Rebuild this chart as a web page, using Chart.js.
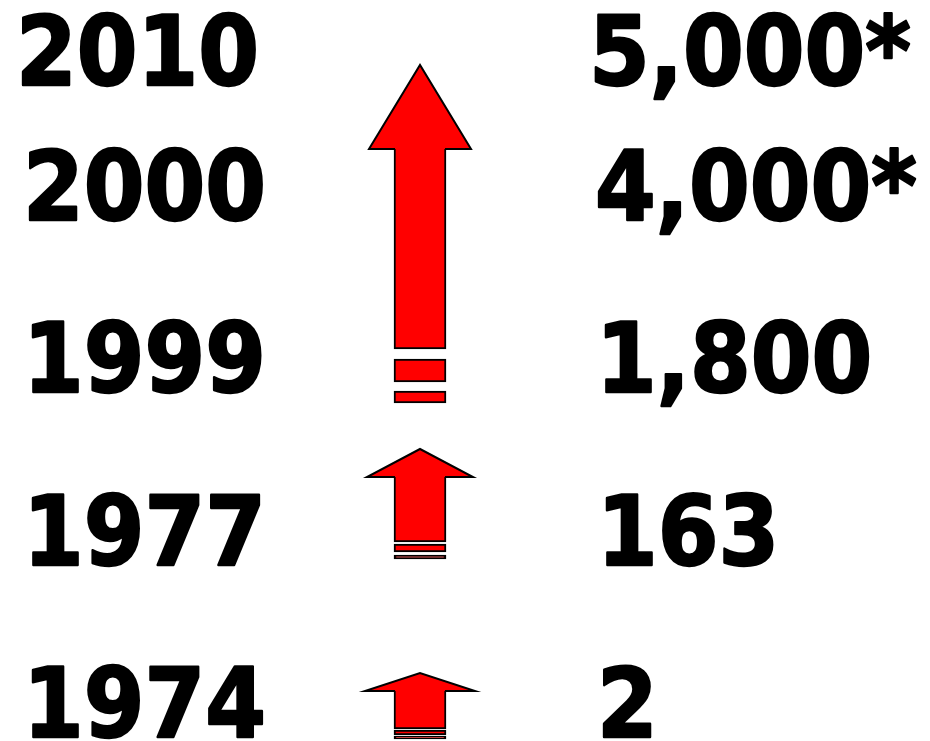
<!DOCTYPE html>
<html>
<head>
<meta charset="utf-8">
<script src="https://cdn.jsdelivr.net/npm/chart.js@4"></script>
<style>
  html, body { margin: 0; padding: 0; background: #fff; }
  #wrap { width: 930px; height: 741px; position: relative; }
</style>
</head>
<body>
<div id="wrap"><canvas id="chart"></canvas></div>
<script>
// Rows: year on the left, count on the right
const years = ['2010', '2000', '1999', '1977', '1974'];
const counts = ['5,000*', '4,000*', '1,800', '163', '2'];

// Arrows, in slide units (0 = top of slide, 741 = bottom)
const arrowTip = [65, 449, 673];
const headBase = [149, 477, 691];
const shaftEnd = [349, 542, 729];
// "broken" segments under each arrow: [top, bottom]
const breakBars = [
  [[359, 382], [391, 403]],
  [[544, 552], [555, 559]],
  [[730, 735], [736, 739]]
];

// layout (not data)
const rowBaseline = [85, 220, 392, 565, 737];
const yearX = [16, 23, 23, 23, 23];
const countX = [589, 595, 596, 597, 597];
const arrowX = 420;
const shaftWidth = 52;
const headHalf = [51, 53, 55];
const RED = '#ff0000';

const shaftData = arrowTip.map((t, i) => ({ x: arrowX, y: [headBase[i], shaftEnd[i]] }));
const breakData = [];
breakBars.forEach(list => list.forEach(b => breakData.push({ x: arrowX, y: b })));

// arrow heads + the text columns
const slidePlugin = {
  id: 'slide',
  afterDatasetsDraw(chart) {
    const ctx = chart.ctx;
    const xs = chart.scales.x, ys = chart.scales.y;
    const cx = xs.getPixelForValue(arrowX);
    const halfShaft = shaftWidth / 2;

    arrowTip.forEach((t, i) => {
      const tipY = ys.getPixelForValue(t);
      const baseY = ys.getPixelForValue(headBase[i]);
      const hw = headHalf[i];
      ctx.save();
      ctx.beginPath();
      ctx.moveTo(cx - hw, baseY);
      ctx.lineTo(cx, tipY);
      ctx.lineTo(cx + hw, baseY);
      ctx.closePath();
      ctx.fillStyle = RED;
      ctx.fill();
      ctx.beginPath();
      ctx.moveTo(cx - halfShaft + 1, baseY);
      ctx.lineTo(cx - hw, baseY);
      ctx.lineTo(cx, tipY);
      ctx.lineTo(cx + hw, baseY);
      ctx.lineTo(cx + halfShaft - 1, baseY);
      ctx.lineWidth = 2;
      ctx.lineJoin = 'miter';
      ctx.strokeStyle = '#000';
      ctx.stroke();
      ctx.restore();
    });

    // text, slightly emboldened with a stroke to get closer to the heavy slide font
    ctx.save();
    ctx.fillStyle = '#000';
    ctx.strokeStyle = '#000';
    ctx.lineWidth = 2.4;
    ctx.lineJoin = 'round';
    ctx.font = 'bold 97px "DejaVu Sans"';
    ctx.textBaseline = 'alphabetic';
    ctx.textAlign = 'left';
    const put = (txt, x, y) => {
      ctx.save();
      ctx.translate(x, y);
      ctx.scale(0.9, 1);
      ctx.fillText(txt, 0, 0);
      ctx.strokeText(txt, 0, 0);
      ctx.restore();
    };
    years.forEach((yr, i) => {
      const y = ys.getPixelForValue(rowBaseline[i]);
      put(yr, xs.getPixelForValue(yearX[i]), y);
      put(counts[i], xs.getPixelForValue(countX[i]), y);
    });
    ctx.restore();
  }
};

new Chart(document.getElementById('chart'), {
  type: 'bar',
  data: {
    datasets: [
      {
        data: shaftData,
        backgroundColor: RED,
        borderColor: '#000',
        borderWidth: { left: 2, right: 2, bottom: 2, top: 0 },
        borderSkipped: false,
        barThickness: shaftWidth,
        grouped: false
      },
      {
        data: breakData,
        backgroundColor: RED,
        borderColor: '#000',
        borderWidth: 2,
        borderSkipped: false,
        barThickness: shaftWidth,
        grouped: false
      }
    ]
  },
  options: {
    responsive: true,
    maintainAspectRatio: false,
    animation: false,
    layout: { padding: 0 },
    plugins: { legend: { display: false }, tooltip: { enabled: false } },
    scales: {
      x: { type: 'linear', min: 0, max: 930, offset: false, display: false },
      y: { type: 'linear', min: 0, max: 741, reverse: true, display: false }
    }
  },
  plugins: [slidePlugin]
});
</script>
</body>
</html>
